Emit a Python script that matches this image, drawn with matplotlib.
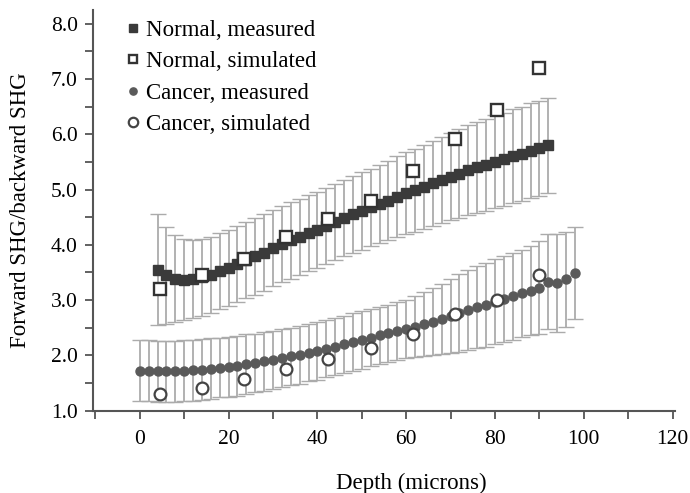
import matplotlib
matplotlib.use('Agg')
import matplotlib.pyplot as plt
from matplotlib.ticker import MultipleLocator, FormatStrFormatter

plt.rcParams['font.family'] = ['Liberation Serif', 'DejaVu Serif']

# normal tissue, measured (depth in microns)
normal_depth = list(range(4, 93, 2))
normal_val = [3.55, 3.45, 3.39, 3.37, 3.38, 3.41, 3.46, 3.52, 3.58, 3.65,
              3.72, 3.79, 3.86, 3.94, 4.01, 4.08, 4.14, 4.21, 4.27, 4.34,
              4.41, 4.48, 4.55, 4.61, 4.68, 4.74, 4.80, 4.87, 4.93, 4.99,
              5.05, 5.11, 5.17, 5.23, 5.29, 5.35, 5.40, 5.45, 5.50, 5.55,
              5.60, 5.65, 5.70, 5.75, 5.80]
normal_err = [1.00, 0.88, 0.79, 0.73, 0.70, 0.69,
              0.69, 0.69, 0.69, 0.69, 0.69, 0.69, 0.69, 0.69,
              0.69, 0.69, 0.69, 0.69, 0.69, 0.69, 0.69, 0.69,
              0.69, 0.70, 0.70, 0.71, 0.72, 0.73, 0.74, 0.75, 0.76, 0.77,
              0.78, 0.79, 0.80, 0.81, 0.82, 0.83, 0.84, 0.84, 0.85, 0.85,
              0.86, 0.86, 0.86]

# cancer tissue, measured
cancer_depth = list(range(0, 99, 2))
cancer_val = [1.72, 1.72, 1.71, 1.71, 1.71, 1.72, 1.73, 1.74, 1.76, 1.78,
              1.79, 1.81, 1.84, 1.86, 1.89, 1.92, 1.95, 1.98, 2.01, 2.05,
              2.08, 2.12, 2.16, 2.20, 2.24, 2.28, 2.32, 2.36, 2.40, 2.44,
              2.48, 2.52, 2.57, 2.61, 2.66, 2.71, 2.77, 2.82, 2.87, 2.92,
              2.97, 3.02, 3.07, 3.12, 3.17, 3.22, 3.33, 3.31, 3.38, 3.49]
cancer_err = [0.55, 0.55, 0.55, 0.55, 0.55, 0.55,
              0.55, 0.55, 0.55, 0.54, 0.54, 0.54, 0.54, 0.53, 0.53, 0.53,
              0.53, 0.52, 0.52, 0.52, 0.52,
              0.52, 0.52, 0.52, 0.52, 0.52, 0.52, 0.52, 0.52, 0.52, 0.53,
              0.55, 0.58, 0.61, 0.64, 0.67, 0.70, 0.72, 0.74, 0.76, 0.77,
              0.78, 0.79, 0.79, 0.80, 0.84, 0.86, 0.88, 0.86, 0.84]

# simulated values
sim_depth = [4.5, 14, 23.5, 33, 42.5, 52, 61.5, 71, 80.5, 90]
normal_sim = [3.20, 3.45, 3.75, 4.15, 4.46, 4.80, 5.33, 5.92, 6.43, 7.20]
cancer_sim = [1.30, 1.41, 1.57, 1.75, 1.93, 2.14, 2.38, 2.75, 3.00, 3.45]

fig = plt.figure(figsize=(6.9, 4.93), dpi=100)
ax = fig.add_axes([0.135, 0.167, 0.843, 0.813])

ebar = dict(fmt='none', ecolor='#ababab', elinewidth=1.3, capsize=6,
            capthick=1.0, zorder=1)
ax.errorbar(normal_depth, normal_val, yerr=normal_err, **ebar)
ax.errorbar(cancer_depth, cancer_val, yerr=cancer_err, **ebar)

ax.plot(normal_depth, normal_val, 's', color='#3a3a3a', ms=6.5, zorder=3,
        label='Normal, measured')
ax.plot(sim_depth, normal_sim, 's', mfc='white', mec='#333333', mew=1.7,
        ms=8, zorder=4, label='Normal, simulated')
ax.plot(cancer_depth, cancer_val, 'o', color='#5a5a5a', ms=6.5, zorder=3,
        label='Cancer, measured')
ax.plot(sim_depth, cancer_sim, 'o', mfc='white', mec='#444444', mew=1.6,
        ms=8.5, zorder=4, label='Cancer, simulated')

ax.set_xlim(-10.5, 120.5)
ax.set_ylim(1.0, 8.25)
ax.xaxis.set_major_locator(MultipleLocator(20))
ax.xaxis.set_minor_locator(MultipleLocator(10))
ax.yaxis.set_major_locator(MultipleLocator(1))
ax.yaxis.set_minor_locator(MultipleLocator(0.5))
ax.yaxis.set_major_formatter(FormatStrFormatter('%.1f'))

for s in ['top', 'right']:
    ax.spines[s].set_visible(False)
for s in ['left', 'bottom']:
    ax.spines[s].set_color('#555555')
    ax.spines[s].set_linewidth(1.5)
ax.tick_params(which='both', direction='out', length=6, width=1.3,
               color='#555555', labelsize=15.5)
ax.tick_params(axis='x', pad=8)
ax.tick_params(axis='y', pad=5)

ax.set_xlabel('Depth (microns)', fontsize=16.5, labelpad=10)
ax.xaxis.set_label_coords(0.547, -0.155)
ax.set_ylabel('Forward SHG/backward SHG', fontsize=16.5, labelpad=14)

leg = ax.legend(loc='upper left', bbox_to_anchor=(0.038, 0.998), frameon=False,
                fontsize=16.5, handlelength=0.75, handletextpad=0.2,
                labelspacing=0.45, borderaxespad=0.0, markerscale=0.8)

fig.savefig('out.png', dpi=100)
